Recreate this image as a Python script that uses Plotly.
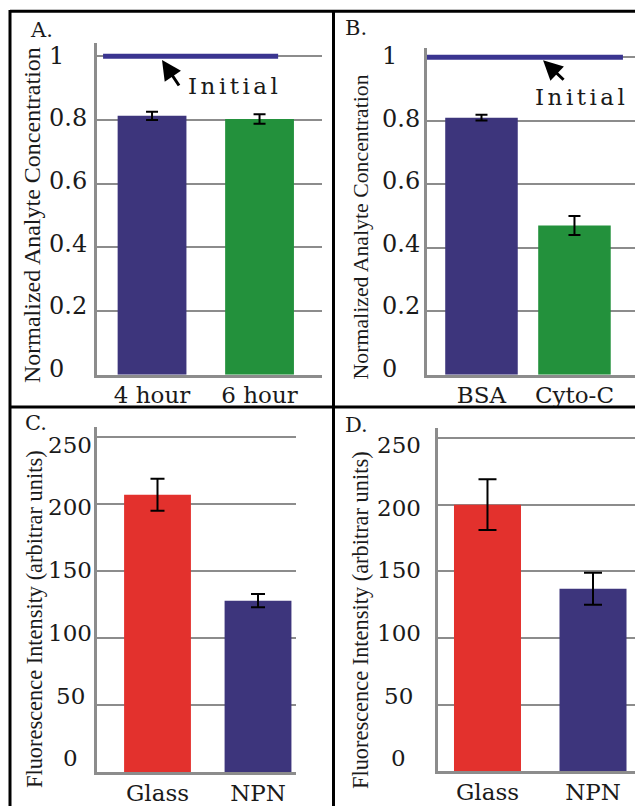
import plotly.graph_objects as go

# ---------------- data ----------------
A_CATS = ["4 hour", "6 hour"]
A_VALS = [0.813, 0.803]
A_ERR = [0.013, 0.015]

B_CATS = ["BSA", "Cyto-C"]
B_VALS = [0.81, 0.47]
B_ERR = [0.009, 0.03]

C_CATS = ["Glass", "NPN"]
C_VALS = [207, 128]
C_ERR = [12, 5]

D_CATS = ["Glass", "NPN"]
D_VALS = [200, 137]
D_ERR = [19, 12]

INITIAL = 1.0

NORM_TICKS = [0, 0.2, 0.4, 0.6, 0.8, 1]
NORM_TICK_LABELS = ["0", "0.2", "0.4", "0.6", "0.8", "1"]
FLUO_TICKS = [0, 50, 100, 150, 200, 250]
FLUO_TICK_LABELS = ["0", "50", "100", "150", "200", "250"]

PANEL_LETTERS = ["A.", "B.", "C.", "D."]
NORM_TITLE = "Normalized Analyte Concentration"
FLUO_TITLE = "Fluorescence Intensity (arbitrar units)"
INITIAL_LABEL = "Initial"

# ---------------- style ----------------
W, H = 635, 806
BLUE = "#3d357c"
GREEN = "#23913c"
RED = "#e3312d"
LINE_BLUE = "#3a3590"
GRID = "#8c8c8c"
TXT = "#1a1a1a"
SANS = "DejaVu Serif"
SERIF = "Liberation Serif"


def px(x):
    return x / W


def py(y):
    return 1 - y / H


fig = go.Figure()


def add_bars(cats, vals, errs, colors, width, cap, xa, ya):
    fig.add_trace(go.Bar(
        x=cats, y=vals, width=width,
        marker=dict(color=colors, line=dict(width=0)),
        error_y=dict(type="data", array=errs, visible=True,
                     color="black", thickness=2, width=cap),
        xaxis=xa, yaxis=ya, showlegend=False, hoverinfo="skip",
    ))


add_bars(A_CATS, A_VALS, A_ERR, [BLUE, GREEN], 0.64, 6, "x", "y")
add_bars(B_CATS, B_VALS, B_ERR, [BLUE, GREEN], 0.78, 6, "x2", "y2")
add_bars(C_CATS, C_VALS, C_ERR, [RED, BLUE], 0.665, 7, "x3", "y3")
add_bars(D_CATS, D_VALS, D_ERR, [RED, BLUE], 0.635, 9, "x4", "y4")


def xaxis(domain, rng, anchor):
    return dict(domain=domain, range=rng, type="category", anchor=anchor,
                showgrid=False, zeroline=False, showline=True,
                linecolor=GRID, linewidth=3, ticks="",
                tickfont=dict(family=SANS, size=23, color=TXT),
                ticklabelstandoff=-2)


def yaxis(domain, rng, anchor, tickvals):
    return dict(domain=domain, range=rng, anchor=anchor,
                tickvals=tickvals, showticklabels=False,
                showgrid=True, gridcolor=GRID, gridwidth=2,
                zeroline=False, showline=True, linecolor=GRID, linewidth=3,
                ticks="")


fig.update_layout(
    width=W, height=H,
    margin=dict(l=0, r=0, t=0, b=0),
    paper_bgcolor="white", plot_bgcolor="white",
    bargap=0.3,
    xaxis=xaxis([px(97), px(322)], [-0.512, 1.581], "y"),
    yaxis=yaxis([py(379), py(43)], [0, 1.043], "x", NORM_TICKS),
    xaxis2=xaxis([px(427), 1.0], [-0.586, 1.651], "y2"),
    yaxis2=yaxis([py(379), py(49)], [0, 1.028], "x2", NORM_TICKS),
    xaxis3=xaxis([px(97), px(296)], [-0.602, 1.378], "y3"),
    yaxis3=yaxis([py(781), py(432)], [0, 257.4], "x3", FLUO_TICKS),
    xaxis4=xaxis([px(438), 1.0], [-0.469, 1.398], "y4"),
    yaxis4=yaxis([py(780), py(433)], [0, 257.4], "x4", FLUO_TICKS),
)

annotations = []

# tick labels (left / centre aligned like the original)
def tick_labels(vals, labels, yref, xpos, anchor, size, off0, off1, vmax):
    for v, t in zip(vals, labels):
        annotations.append(dict(
            x=xpos, xref="paper", xanchor=anchor,
            y=v, yref=yref, yanchor="middle",
            yshift=off0 + (off1 - off0) * v / vmax,
            text=t, showarrow=False,
            font=dict(family=SANS, size=size, color=TXT)))


tick_labels(NORM_TICKS, NORM_TICK_LABELS, "y", px(47), "left", 24, 6, 0.5, 1)
tick_labels(NORM_TICKS, NORM_TICK_LABELS, "y2", px(380), "left", 24, 6, 1, 1)
tick_labels(FLUO_TICKS, FLUO_TICK_LABELS, "y3", px(70), "center", 23, 14, -7.5, 250)
tick_labels(FLUO_TICKS, FLUO_TICK_LABELS, "y4", px(399), "center", 23, 13, -7, 250)

# axis titles
for (cx, cy, txt, size) in [(32, 217.5, NORM_TITLE, 24),
                            (361, 230, NORM_TITLE, 21.8),
                            (34, 626, FLUO_TITLE, 22.4),
                            (361, 627, FLUO_TITLE, 22.4)]:
    annotations.append(dict(
        x=px(cx), y=py(cy), xref="paper", yref="paper",
        xanchor="center", yanchor="middle", textangle=-90,
        text=txt, showarrow=False,
        font=dict(family=SERIF, size=size, color=TXT)))

# panel letters
for (lx, ly, txt) in zip([28, 343, 23, 343], [30, 28.5, 428, 429.5], PANEL_LETTERS):
    annotations.append(dict(
        x=px(lx), y=py(ly), xref="paper", yref="paper",
        xanchor="left", yanchor="middle", text=txt, showarrow=False,
        font=dict(family=SANS, size=21, color=TXT)))

# "Initial" arrows and labels
for (xa, ya, hx, hy, ax, ay, tx, ty) in [("x", "y", 0.289, 0.988, 18, 27, 0.396, 0.907),
                                        ("x2", "y2", 0.558, 0.991, 22, 21, 0.51, 0.875)]:
    annotations.append(dict(
        x=hx, xref=f"{xa} domain", y=hy * INITIAL, yref=ya,
        ax=ax, ay=ay, text="", showarrow=True,
        arrowhead=2, arrowsize=1.3, arrowwidth=3, arrowcolor="black"))
    annotations.append(dict(
        x=tx, xref=f"{xa} domain", y=ty * INITIAL, yref=ya,
        xanchor="left", yanchor="middle", showarrow=False,
        text=f'<span style="letter-spacing:3.5px">{INITIAL_LABEL}</span>',
        font=dict(family=SANS, size=23, color=TXT)))

fig.update_layout(annotations=annotations)

# initial concentration lines
shapes = [
    dict(type="line", xref="x domain", yref="y", x0=0.027, x1=0.805,
         y0=INITIAL, y1=INITIAL, line=dict(color=LINE_BLUE, width=5)),
    dict(type="line", xref="x2 domain", yref="y2", x0=0.0, x1=0.942,
         y0=INITIAL, y1=INITIAL, line=dict(color=LINE_BLUE, width=5)),
]
# panel frame
for (x0, y0, x1, y1) in [(10, 11.5, 640, 11.5), (10, 411.5, 640, 411.5),
                         (10, 10, 10, 820), (333.5, 10, 333.5, 820)]:
    shapes.append(dict(type="line", xref="paper", yref="paper",
                       x0=px(x0), x1=px(x1), y0=py(y0), y1=py(y1),
                       line=dict(color="black", width=3)))
fig.update_layout(shapes=shapes)

fig.write_html(
    "out.html",
    config={"displayModeBar": False},
    post_script="document.body.style.margin='0';document.body.style.overflow='hidden';",
)
